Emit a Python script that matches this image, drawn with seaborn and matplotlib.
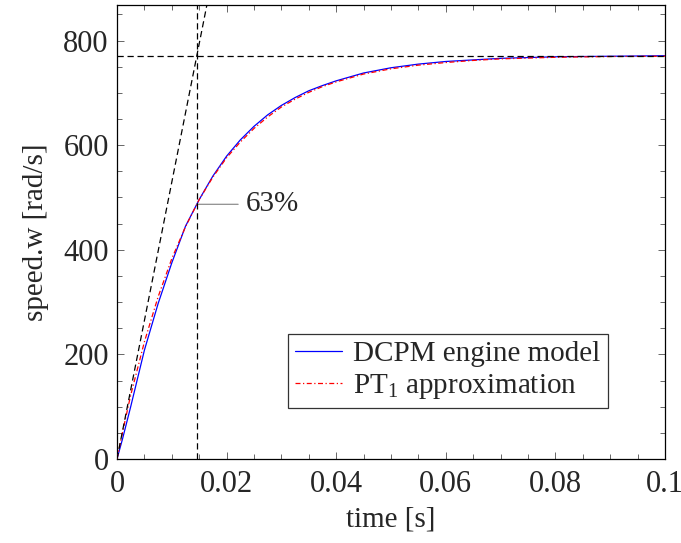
import numpy as np
import pandas as pd
import matplotlib
matplotlib.use('Agg')
import matplotlib.pyplot as plt
import seaborn as sns
from matplotlib.ticker import MultipleLocator, FixedLocator, FixedFormatter

# values
time_s = [0, 0.001, 0.0025, 0.005, 0.0075, 0.01, 0.0125, 0.015, 0.0175, 0.02, 0.0225,
          0.025, 0.0275, 0.03, 0.0325, 0.035, 0.0375, 0.04, 0.045, 0.05, 0.055, 0.06,
          0.065, 0.07, 0.08, 0.09, 0.1]
dcpm_speed = [0, 38, 100, 208, 297, 375, 445, 496, 541, 579, 610,
              636, 658, 676, 691, 704, 714, 723, 738, 748, 755, 760,
              763, 766, 769, 770, 771]
pt1_speed = [0, 51, 122, 224, 310, 383, 444, 496, 539, 576, 606,
             632, 654, 673, 688, 701, 712, 721, 736, 746, 753, 758,
             762, 765, 768, 769.5, 770]

tau = 0.01457          # time constant (vertical dashed line)
w_final = 771          # steady state speed (horizontal dashed line)
w_63 = 487             # 63% point
tangent_t = [0, 0.0164]
tangent_w = [0, 868]

x_ticks = [0, 0.02, 0.04, 0.06, 0.08, 0.1]
x_labels = ["0", "0.02", "0.04", "0.06", "0.08", "0.1"]
y_ticks = [0, 200, 400, 600, 800]

sns.set_theme(style="ticks")
plt.rcParams['font.family'] = ['Liberation Serif', 'DejaVu Serif']
plt.rcParams['mathtext.fontset'] = 'custom'
plt.rcParams['mathtext.rm'] = 'Liberation Serif'
plt.rcParams['mathtext.it'] = 'Liberation Serif:italic'

df = pd.DataFrame({
    "time": time_s * 2,
    "speed": dcpm_speed + pt1_speed,
    "model": ["DCPM engine model"] * len(time_s) + [r"PT$_1$ approximation"] * len(time_s),
})

fig = plt.figure(figsize=(6.81, 5.43), dpi=100)
ax = fig.add_axes([0.1718, 0.1547, 0.8047, 0.8361])

sns.lineplot(data=df[df.model == "DCPM engine model"], x="time", y="speed",
             color="blue", lw=0.9, ax=ax, label="DCPM engine model", zorder=3)
sns.lineplot(data=df[df.model != "DCPM engine model"], x="time", y="speed",
             color="red", lw=0.9, ax=ax, label=r"PT$_1$ approximation", zorder=3)
ax.lines[1].set_dashes([4, 2, 1, 2])

# helper lines
ax.plot(tangent_t, tangent_w, color="black", lw=0.9, dashes=(5, 3), zorder=4)
ax.axhline(w_final, color="black", lw=0.9, dashes=(5, 3), zorder=4)
ax.axvline(tau, color="black", lw=0.9, dashes=(5, 3), zorder=4)

ax.annotate("63%", xy=(tau, w_63), xytext=(tau + 0.0089, w_63),
            fontsize=21, va="center", ha="left",
            arrowprops=dict(arrowstyle="-", color="gray", lw=0.8, shrinkA=3, shrinkB=0))

ax.set_xlim(0, 0.1)
ax.set_ylim(0, 868)
ax.xaxis.set_major_locator(FixedLocator(x_ticks))
ax.xaxis.set_major_formatter(FixedFormatter(x_labels))
ax.xaxis.set_minor_locator(MultipleLocator(0.005))
ax.yaxis.set_major_locator(FixedLocator(y_ticks))
ax.yaxis.set_minor_locator(MultipleLocator(50))
ax.tick_params(which="both", direction="in", top=True, right=True, color="#666666",
               labelsize=22, width=0.7)
ax.tick_params(which="major", length=5)
ax.tick_params(which="minor", length=3.5)
ax.tick_params(axis="x", which="major", pad=8)
ax.tick_params(axis="y", which="major", pad=6)
for s in ax.spines.values():
    s.set_color("black")
    s.set_linewidth(0.9)

ax.set_xlabel("time [s]", fontsize=21, labelpad=5)
ax.set_ylabel("speed.w [rad/s]", fontsize=21, labelpad=10)

leg = ax.legend(loc="lower right", bbox_to_anchor=(0.896, 0.112), borderaxespad=0,
                fontsize=21, frameon=True, fancybox=False, edgecolor="black",
                handlelength=1.6, handletextpad=0.4, borderpad=0.25, labelspacing=0.15)
leg.get_frame().set_linewidth(0.9)

fig.savefig("out.png", dpi=100)
